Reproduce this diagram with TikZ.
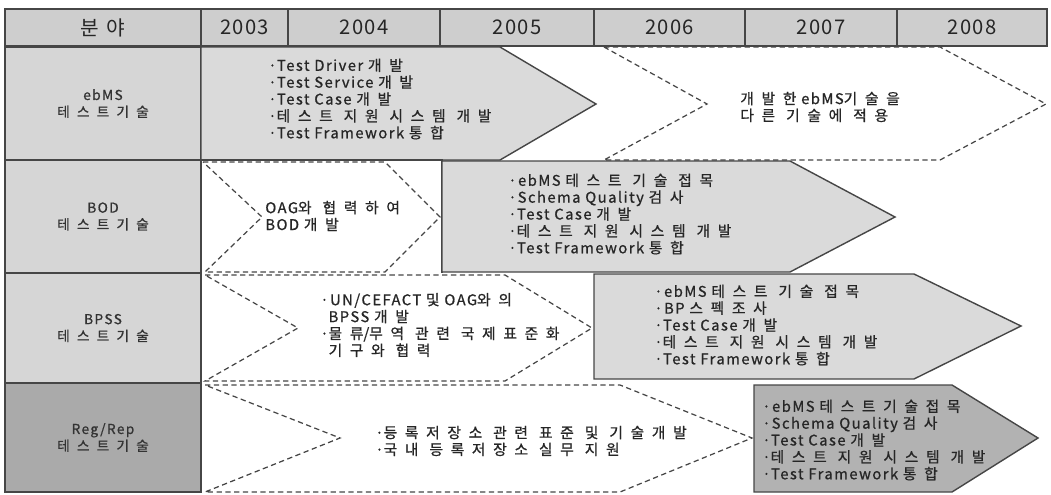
\documentclass[tikz,border=0pt]{standalone}
\usepackage{fontspec}
\setmainfont{Noto Sans CJK KR}
\newfontfamily\bodyfont{Noto Sans CJK KR}[LetterSpace=10, FakeBold=0.8]
\newfontfamily\krfont{Noto Sans CJK KR}[LetterSpace=52, FakeBold=0.8]
\newfontfamily\headfont{Noto Sans CJK KR}[LetterSpace=6]
\newfontfamily\krhead{Noto Sans CJK KR}[LetterSpace=35]
\newcommand{\hg}[1]{{\krfont #1}}
\usepackage{tikz}
\usepackage{xcolor}
\definecolor{headgray}{RGB}{206,206,206}
\definecolor{cellgray}{RGB}{214,214,214}
\definecolor{darkcell}{RGB}{170,170,170}
\definecolor{arrowgray}{RGB}{218,218,218}
\definecolor{darkarrow}{RGB}{178,178,178}
\definecolor{linegray}{RGB}{70,70,70}

\begin{document}
\begin{tikzpicture}[x=0.02cm, y=-0.02cm,
    head/.style={rectangle, draw=linegray, line width=1pt, fill=headgray, minimum height=0.74cm, inner sep=0pt, font={\headfont\fontsize{11.5}{12}\selectfont}, text=black!85},
    label/.style={rectangle, draw=linegray, line width=1pt, fill=cellgray, minimum width=3.92cm, inner sep=0pt, align=center, font={\bodyfont\fontsize{7.8}{9.6}\selectfont}, text=black!80},
    garrow/.style={draw=linegray, line width=0.8pt, fill=arrowgray},
    warrow/.style={draw=linegray, densely dashed, line width=0.7pt, fill=white},
    desc/.style={anchor=west, align=left, inner sep=0pt, font={\bodyfont\fontsize{8.4}{9.6}\selectfont}, text=black!85}
]
\useasboundingbox (0,0) rectangle (1051,494);

% --- header ---
\node[head, minimum width=3.92cm, font={\krhead\fontsize{11.5}{12}\selectfont}] (hfield) at (103,27.5) {분야};
\foreach \cx/\w/\yr in {244.5/87/2003, 364/152/2004, 517/154/2005, 669.5/151/2006, 821/152/2007, 972/150/2008}
    \node[head, minimum width=\w*0.02cm] (h\yr) at (\cx,27.5) {\yr};

% --- Row 1: ebMS ---
\node[label, minimum height=2.26cm] (l1) at (103,103.5) {ebMS\\\hg{테스트기술}};
\draw[garrow] (201,47) -- (500,47) -- (596,104) -- (500,160) -- (201,160) -- cycle;
\draw[warrow] (604,47) -- (940,47) -- (1046,104) -- (940,160) -- (604,160) -- (707,104) -- cycle;
\node[desc] (t1a) at (268,99) {·Test Driver \hg{개발}\\·Test Service \hg{개발}\\·Test Case \hg{개발}\\·\hg{테스트 지원 시스템 개발}\\·Test Framework \hg{통합}};
\node[desc] (t1b) at (740,107) {\hg{개발한} ebMS\hg{기술을}\\\hg{다른 기술에 적용}};

% --- Row 2: BOD ---
\node[label, minimum height=2.26cm] (l2) at (103,216.5) {BOD\\\hg{테스트기술}};
\draw[warrow] (203,162) -- (385,162) -- (440,217) -- (385,272) -- (205,272) -- (262,217) -- cycle;
\draw[linegray, line width=1pt] (201,160) -- (442,160) -- (442,273);
\draw[garrow] (442,161) -- (790,161) -- (895,217) -- (790,272) -- (442,272) -- cycle;
\node[desc] (t2a) at (265,216) {OAG\hg{와 협력하여}\\BOD \hg{개발}};
\node[desc] (t2b) at (508,214) {·ebMS \hg{테스트 기술 접목}\\·Schema Quality \hg{검사}\\·Test Case \hg{개발}\\·\hg{테스트 지원 시스템 개발}\\·Test Framework \hg{통합}};

% --- Row 3: BPSS ---
\node[label, minimum height=2.2cm] (l3) at (103,328) {BPSS\\\hg{테스트기술}};
\draw[warrow] (205,275) -- (505,275) -- (592,328) -- (505,381) -- (205,381) -- (298,328) -- cycle;
\draw[garrow] (594,274) -- (914,274) -- (1021,326) -- (914,379) -- (594,379) -- cycle;
\node[desc] (t3a) at (320,325) {·UN/CEFACT \hg{및} OAG\hg{와의}\\\phantom{·}BPSS \hg{개발}\\·\hg{물류}/\hg{무역 관련 국제표준화}\\\phantom{·}\hg{기구와 협력}};
\node[desc] (t3b) at (654,325) {·ebMS \hg{테스트 기술 접목}\\·BP \hg{스펙조사}\\·Test Case \hg{개발}\\·\hg{테스트 지원 시스템 개발}\\·Test Framework \hg{통합}};

% --- Row 4: Reg/Rep ---
\node[label, fill=darkcell, minimum height=2.18cm] (l4) at (103,437.5) {Reg/Rep\\\hg{테스트기술}};
\draw[warrow] (205,385) -- (620,385) -- (752,438) -- (620,492) -- (205,492) -- (340,438) -- cycle;
\draw[garrow, fill=darkarrow] (754,385) -- (952,385) -- (1038,438) -- (952,492) -- (754,492) -- cycle;
\node[desc] (t4a) at (375,441) {·\hg{등록저장소 관련 표준 및 기술개발}\\·\hg{국내 등록저장소 실무 지원}};
\node[desc] (t4b) at (762,440) {·ebMS \hg{테스트기술접목}\\·Schema Quality \hg{검사}\\·Test Case \hg{개발}\\·\hg{테스트 지원 시스템 개발}\\·Test Framework \hg{통합}};
\end{tikzpicture}
\end{document}
